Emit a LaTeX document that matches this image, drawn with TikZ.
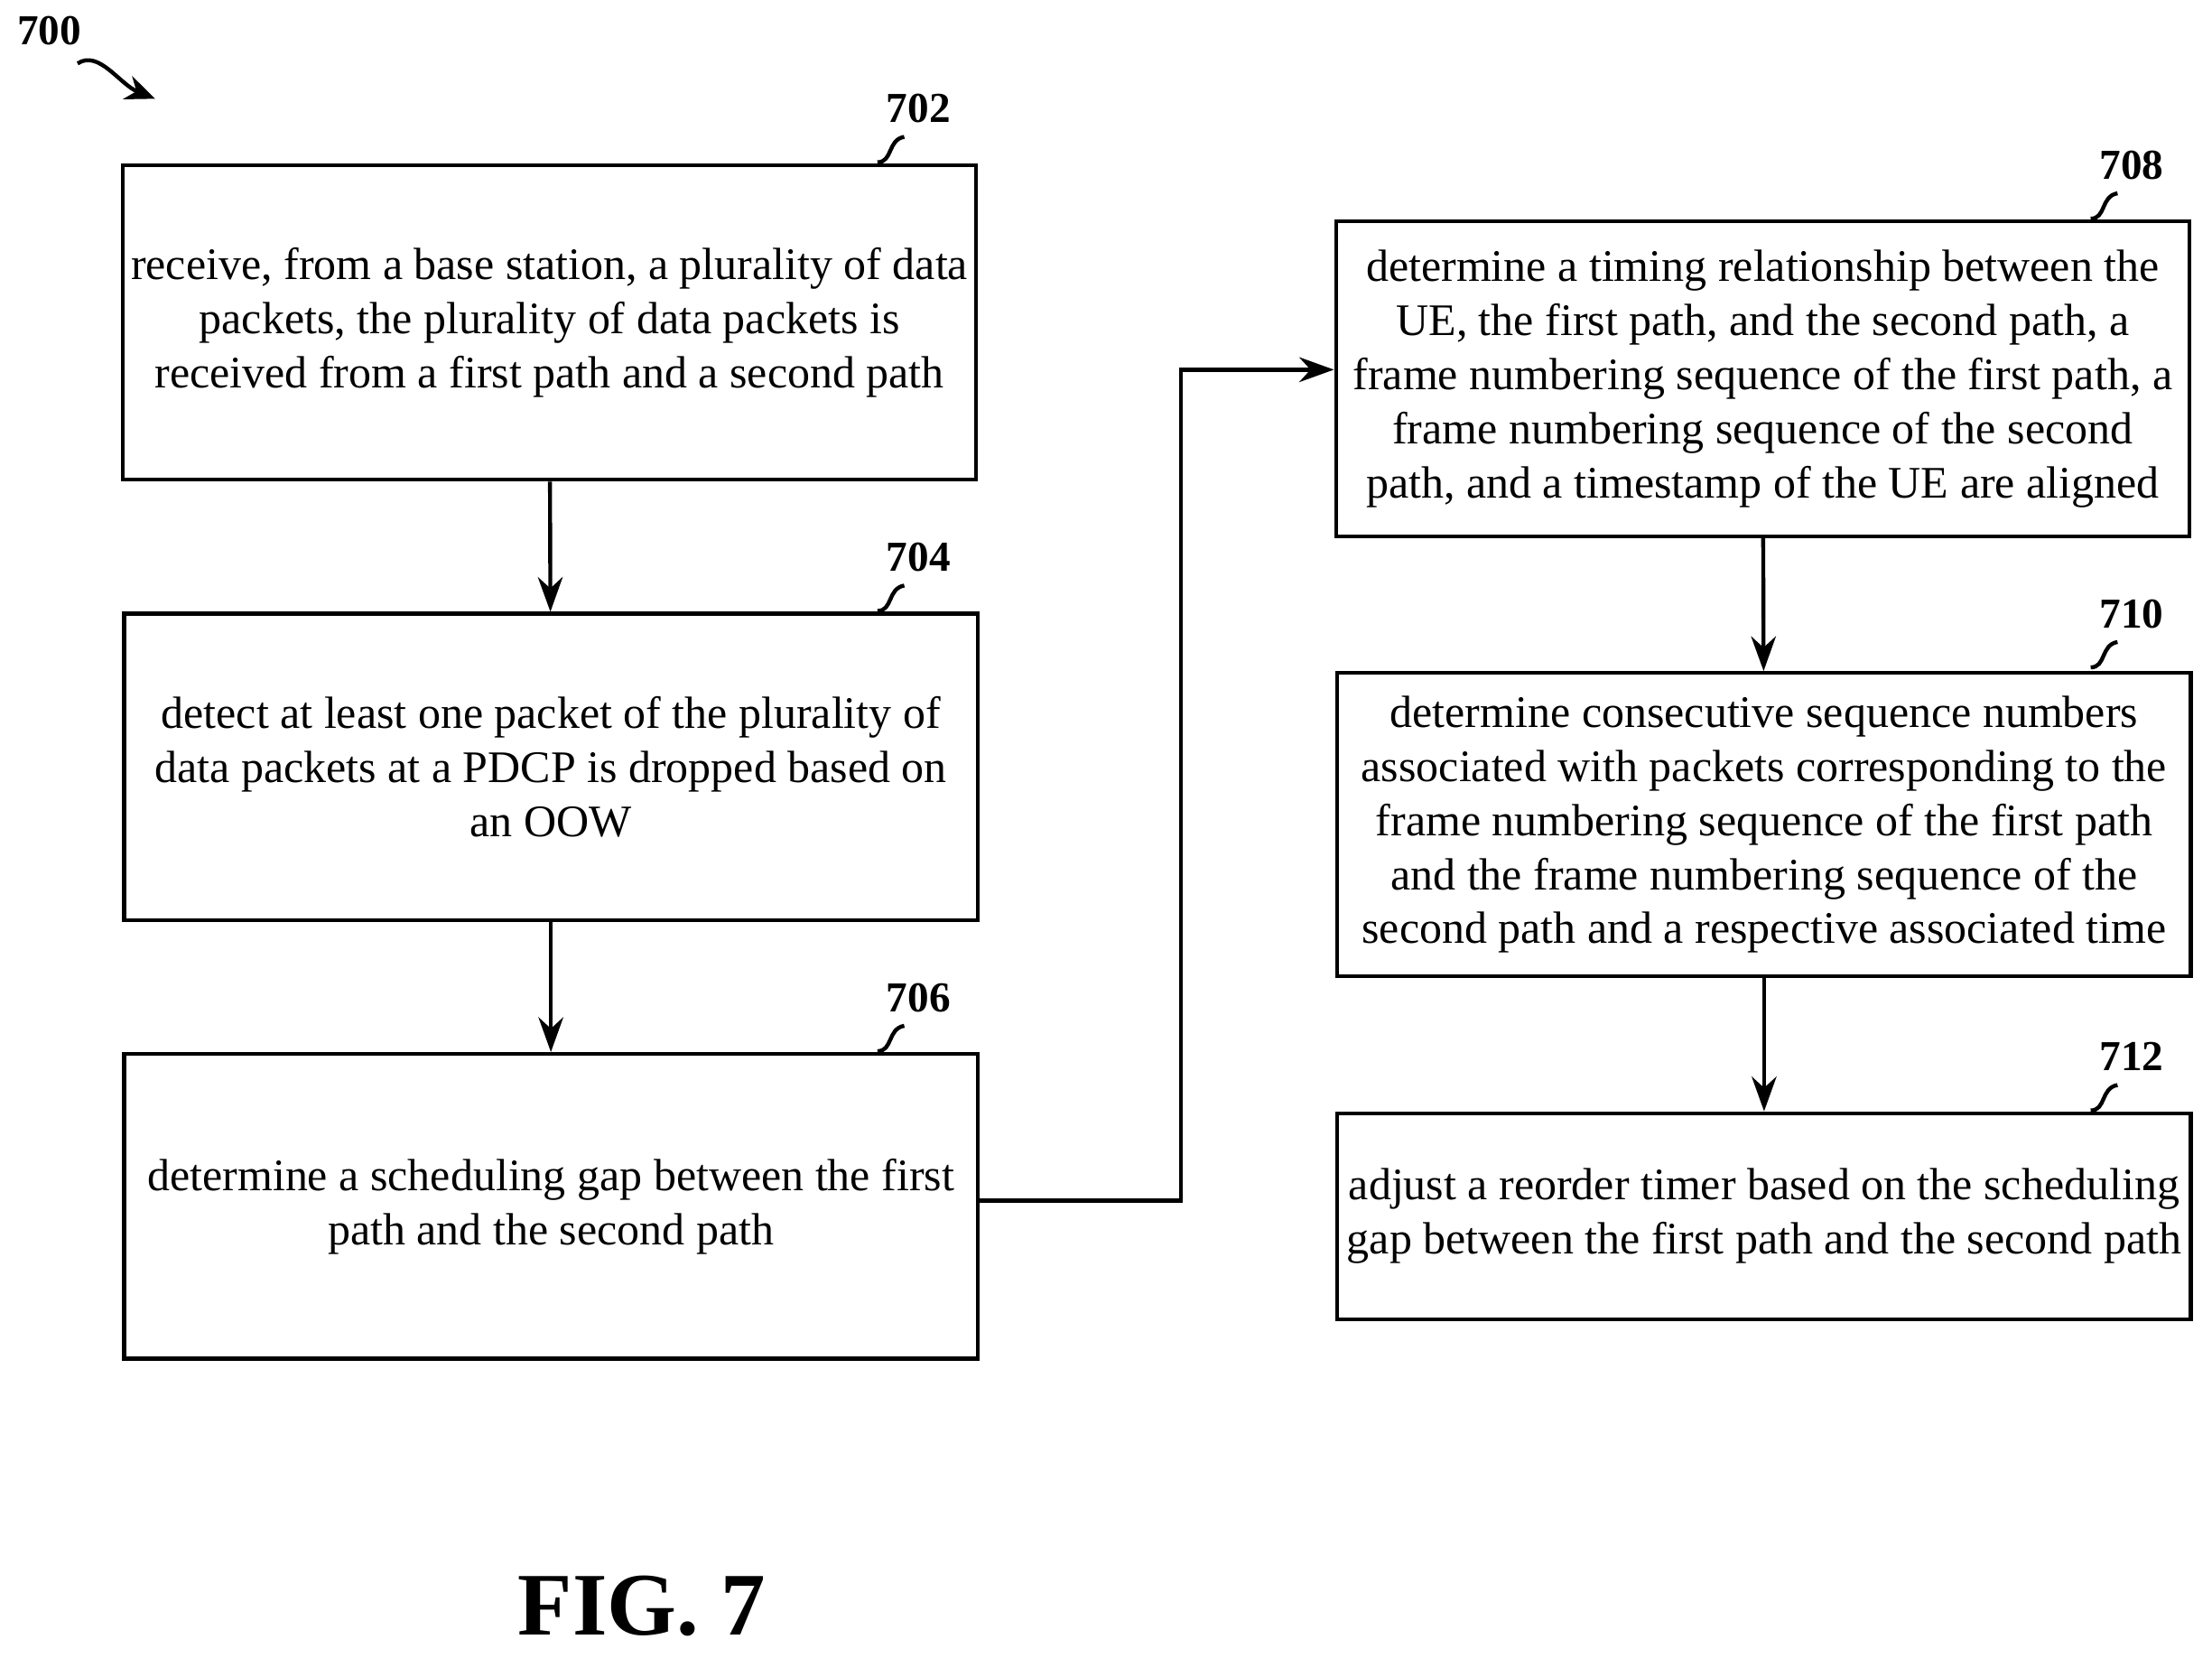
\documentclass[tikz,border=0pt]{standalone}
\usepackage{fontspec}
\setmainfont{Liberation Serif}
\usetikzlibrary{positioning, arrows.meta}
\tikzset{
    stepbox/.style={draw, thick, align=center, inner sep=0pt, font=\fontsize{9.1}{10.9}\selectfont},
    steplabel/.style={font=\fontsize{8.6}{10}\selectfont\bfseries},
    flow/.style={-{Stealth[length=7pt, width=5pt]}, thick}
}
\newcommand{\stepbox}[6]{% name, x1, y1, x2, y2, text
    \node[stepbox, minimum width={(#4-#2)*0.1mm}, minimum height={(#5-#3)*0.1mm}] (#1) at ({(#2+#4)/2}, {(#3+#5)/2}) {#6};
}
\begin{document}
\begin{tikzpicture}[x=0.1mm, y=-0.1mm]
    \useasboundingbox (0,0) rectangle (1568,1175);
    % boxes
    \stepbox{b702}{87}{117}{692}{340}{receive, from a base station, a plurality of data\\packets, the plurality of data packets is\\received from a first path and a second path}
    \stepbox{b704}{88}{435}{693}{652}{detect at least one packet of the plurality of\\data packets at a PDCP is dropped based on\\an OOW}
    \stepbox{b706}{88}{747}{693}{963}{determine a scheduling gap between the first\\path and the second path}
    \stepbox{b708}{947}{157}{1552}{380}{determine a timing relationship between the\\UE, the first path, and the second path, a\\frame numbering sequence of the first path, a\\frame numbering sequence of the second\\path, and a timestamp of the UE are aligned}
    \stepbox{b710}{948}{477}{1553}{692}{determine consecutive sequence numbers\\associated with packets corresponding to the\\frame numbering sequence of the first path\\and the frame numbering sequence of the\\second path and a respective associated time}
    \stepbox{b712}{948}{789}{1553}{935}{adjust a reorder timer based on the scheduling\\gap between the first path and the second path}
    % reference numerals
    \foreach \name/\num/\x/\y in {b702/702/651/77, b704/704/651/395, b706/706/651/707,
                                  b708/708/1511/117, b710/710/1511/435, b712/712/1511/749} {
        \node[steplabel] (\name lbl) at (\x,\y) {\num};
        \draw[thick] (\x-29,\y+38) .. controls (\x-18,\y+38) and (\x-22,\y+22) .. (\x-10,\y+20);
    }
    \node[steplabel] (fig700) at (35,22) {700};
    \coordinate (arr700) at (110,70);
    \draw[thick, -{Stealth[length=6pt, width=5pt]}] (55,45) .. controls (70,35) and (85,60) .. (arr700);
    % connectors
    \draw[flow] (b702) -- (b704);
    \draw[flow] (b704) -- (b706);
    \draw[flow] (b706.east |- 0,851) -| (837,262) -- (b708.west |- 0,262);
    \draw[flow] (b708) -- (b710);
    \draw[flow] (b710) -- (b712);
    \node[font=\fontsize{18}{20}\selectfont\bfseries] (figcap) at (455,1138) {FIG. 7};
\end{tikzpicture}
\end{document}
